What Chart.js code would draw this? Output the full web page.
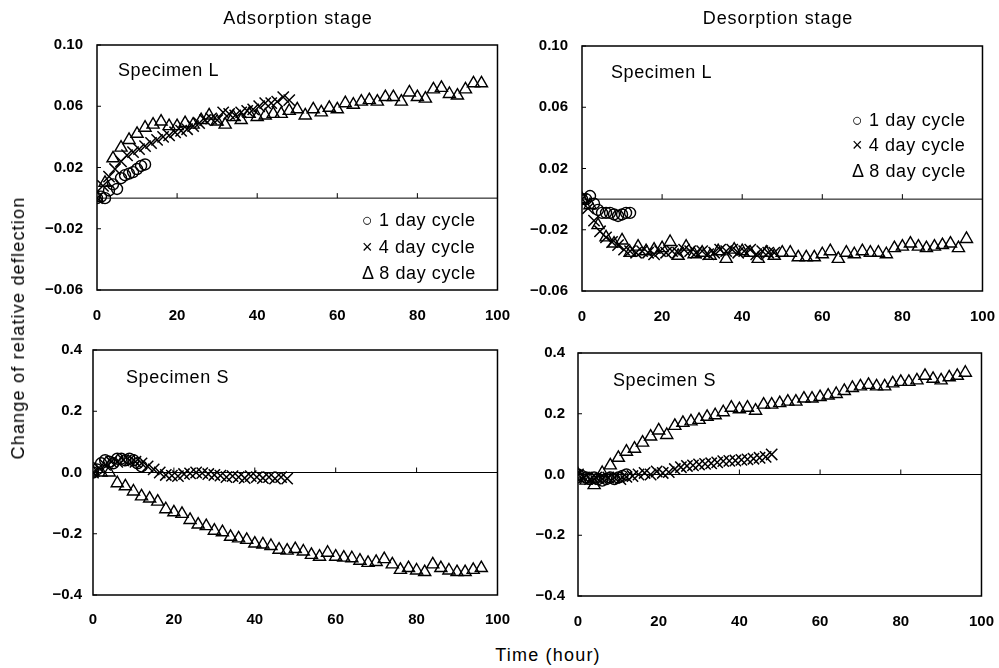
<!DOCTYPE html>
<html>
<head>
<meta charset="utf-8">
<script src="https://cdn.jsdelivr.net/npm/chart.js@4.4.0/dist/chart.umd.min.js"></script>
<style>
  html, body { margin:0; padding:0; background:#fff; }
  #wrap { position:relative; width:999px; height:668px; background:#fff; overflow:hidden; font-family:"Liberation Sans", Arial, sans-serif; color:#000; }
  canvas { position:absolute; }
  .t { position:absolute; white-space:nowrap; line-height:22px; font-size:18px; letter-spacing:0.6px; z-index:2; }
  .c { transform:translate(-50%,-50%); }
</style>
</head>
<body>
<div id="wrap">
  <canvas id="c1" width="507" height="313" style="left:20px;top:22px;width:507px;height:313px"></canvas>
  <canvas id="c2" width="507" height="313" style="left:505px;top:23px;width:507px;height:313px"></canvas>
  <canvas id="c3" width="510" height="310" style="left:16px;top:330px;width:510px;height:310px"></canvas>
  <canvas id="c4" width="510" height="312" style="left:501px;top:331px;width:510px;height:312px"></canvas>

  <div class="t c" style="left:298px;top:18px;letter-spacing:0.9px;">Adsorption stage</div>
  <div class="t c" style="left:778px;top:18px;letter-spacing:0.9px;">Desorption stage</div>

  <div class="t" style="left:118px;top:59px;">Specimen L</div>
  <div class="t" style="left:611px;top:61px;">Specimen L</div>
  <div class="t" style="left:126px;top:366px;">Specimen S</div>
  <div class="t" style="left:613px;top:369px;">Specimen S</div>

  <div class="t" style="left:362px;top:209px;">○ 1 day cycle</div>
  <div class="t" style="left:362px;top:236px;">× 4 day cycle</div>
  <div class="t" style="left:362px;top:262px;">Δ 8 day cycle</div>

  <div class="t" style="left:852px;top:109px;">○ 1 day cycle</div>
  <div class="t" style="left:852px;top:134px;">× 4 day cycle</div>
  <div class="t" style="left:852px;top:160px;">Δ 8 day cycle</div>

  <div class="t" style="left:18px;top:328px;letter-spacing:1.2px;transform:translate(-50%,-50%) rotate(-90deg);">Change of relative deflection</div>
  <div class="t c" style="left:548px;top:655px;letter-spacing:1.2px;">Time (hour)</div>
</div>
<script>
// ---------- data ----------
const hours1 = [0,1,2,3,4,5,6,7,8,9,10,11,12];
const hours4 = [0,1.5,3,4.5,6,7.5,9,10.5,12,13.5,15,16.5,18,19.5,21,22.5,24,25.5,27,28.5,30,31.5,33,34.5,36,37.5,39,40.5,42,43.5,45,46.5,48];
const hours8 = [0,2,4,6,8,10,12,14,16,18,20,22,24,26,28,30,32,34,36,38,40,42,44,46,48,50,52,54,56,58,60,62,64,66,68,70,72,74,76,78,80,82,84,86,88,90,92,94,96];

const xTicks = [0,20,40,60,80,100];
const yTicksL = [-0.06,-0.02,0.02,0.06,0.10];
const yTicksS = [-0.4,-0.2,0.0,0.2,0.4];

const seriesNames = ['1 day cycle','4 day cycle','8 day cycle'];

// Adsorption, specimen L
const adsL1 = [0.000,0.001,0.000,0.005,0.009,0.006,0.013,0.015,0.016,0.017,0.019,0.021,0.022];
const adsL4 = [0.000,0.008,0.014,0.019,0.024,0.028,0.030,0.032,0.034,0.036,0.038,0.040,0.041,0.043,0.044,0.045,0.047,0.049,0.051,0.052,0.051,0.056,0.055,0.054,0.056,0.057,0.058,0.060,0.062,0.062,0.063,0.066,0.064];
const adsL8 = [0.000,0.010,0.026,0.033,0.038,0.042,0.046,0.048,0.050,0.047,0.047,0.049,0.048,0.051,0.054,0.050,0.048,0.053,0.051,0.055,0.053,0.054,0.055,0.055,0.057,0.058,0.054,0.058,0.056,0.059,0.058,0.062,0.061,0.063,0.064,0.063,0.066,0.066,0.063,0.069,0.066,0.065,0.071,0.072,0.068,0.067,0.071,0.075,0.075];

// Desorption, specimen L
const desL1 = [0.000,0.000,0.002,-0.003,-0.007,-0.009,-0.009,-0.009,-0.010,-0.011,-0.010,-0.009,-0.009];
const desL4 = [0.000,-0.006,-0.014,-0.021,-0.025,-0.028,-0.030,-0.033,-0.034,-0.035,-0.034,-0.035,-0.036,-0.034,-0.035,-0.034,-0.035,-0.033,-0.034,-0.035,-0.034,-0.036,-0.035,-0.033,-0.034,-0.033,-0.035,-0.034,-0.033,-0.036,-0.034,-0.035,-0.035];
const desL8 = [0.000,-0.004,-0.017,-0.025,-0.029,-0.027,-0.035,-0.031,-0.034,-0.033,-0.032,-0.028,-0.037,-0.031,-0.036,-0.035,-0.037,-0.034,-0.039,-0.033,-0.034,-0.035,-0.039,-0.035,-0.037,-0.035,-0.035,-0.038,-0.038,-0.038,-0.036,-0.034,-0.039,-0.035,-0.036,-0.034,-0.035,-0.035,-0.036,-0.032,-0.031,-0.029,-0.031,-0.032,-0.031,-0.030,-0.029,-0.032,-0.026];

// Adsorption, specimen S
const adsS1 = [0.000,0.010,0.030,0.040,0.035,0.030,0.045,0.045,0.040,0.045,0.040,0.030,0.020];
const adsS4 = [0.000,0.015,0.025,0.035,0.035,0.040,0.040,0.035,0.030,0.020,0.010,0.000,-0.008,-0.010,-0.012,-0.005,-0.003,0.000,-0.002,-0.005,-0.008,-0.010,-0.015,-0.012,-0.015,-0.018,-0.012,-0.015,-0.018,-0.015,-0.020,-0.015,-0.020];
const adsS8 = [0.000,0.000,0.000,-0.035,-0.045,-0.062,-0.078,-0.085,-0.095,-0.120,-0.130,-0.135,-0.155,-0.170,-0.175,-0.190,-0.195,-0.210,-0.215,-0.220,-0.232,-0.235,-0.240,-0.252,-0.255,-0.250,-0.258,-0.269,-0.275,-0.262,-0.275,-0.278,-0.280,-0.288,-0.295,-0.292,-0.283,-0.300,-0.318,-0.312,-0.320,-0.325,-0.300,-0.312,-0.320,-0.325,-0.325,-0.318,-0.312];

// Desorption, specimen S
const desS1 = [0.000,-0.005,-0.010,-0.015,-0.010,-0.015,-0.020,-0.015,-0.010,-0.015,-0.010,-0.005,0.000];
const desS4 = [0.000,-0.010,-0.015,-0.010,-0.015,-0.010,-0.010,-0.015,-0.008,-0.005,0.000,0.005,0.000,0.010,0.005,0.008,0.018,0.024,0.028,0.030,0.033,0.035,0.037,0.040,0.044,0.045,0.046,0.048,0.050,0.052,0.055,0.058,0.066];
const desS8 = [0.000,-0.020,-0.035,0.005,0.030,0.055,0.075,0.085,0.105,0.125,0.145,0.130,0.160,0.170,0.175,0.180,0.190,0.195,0.205,0.220,0.215,0.220,0.210,0.230,0.230,0.235,0.240,0.240,0.250,0.250,0.255,0.260,0.265,0.275,0.285,0.290,0.295,0.290,0.290,0.300,0.305,0.305,0.310,0.325,0.315,0.310,0.320,0.325,0.335];

// ---------- chart building ----------
const pts = (hs, vs) => hs.map((h, i) => ({ x: h, y: vs[i] }));

const framePlugin = {
  id: 'frame',
  beforeDatasetsDraw(chart) {
    const { ctx, chartArea: a, scales: { x, y } } = chart;
    ctx.save();
    ctx.strokeStyle = '#000';
    ctx.lineWidth = 1.5;
    ctx.strokeRect(a.left, a.top, a.right - a.left, a.bottom - a.top);
    const y0 = y.getPixelForValue(0);
    ctx.lineWidth = 1;
    ctx.beginPath();
    ctx.moveTo(a.left, y0); ctx.lineTo(a.right, y0);
    x.ticks.forEach(t => {
      if (t.value > x.min && t.value < x.max) {
        const px = x.getPixelForValue(t.value);
        ctx.moveTo(px, y0); ctx.lineTo(px, y0 - 5);
      }
    });
    y.ticks.forEach(t => {
      const py = y.getPixelForValue(t.value);
      ctx.moveTo(a.left, py); ctx.lineTo(a.left + 4, py);
    });
    ctx.stroke();
    ctx.restore();
  }
};

function makeChart(id, v1, v4, v8, yTicks, decimals, cfg) {
  const tickFont = { family: '"Liberation Sans", Arial, sans-serif', size: 15, weight: 'bold' };
  const fmt = v => Number(v).toFixed(decimals).replace('-', '\u2212');
  return new Chart(document.getElementById(id), {
    type: 'scatter',
    data: {
      datasets: [
        { label: seriesNames[0], data: pts(hours1, v1), pointStyle: 'circle', pointRadius: 5.5, borderColor: '#000', backgroundColor: 'rgba(0,0,0,0)', borderWidth: 1.4 },
        { label: seriesNames[1], data: pts(hours4, v4), pointStyle: 'crossRot', pointRadius: 8, borderColor: '#000', backgroundColor: 'rgba(0,0,0,0)', borderWidth: 1.5 },
        { label: seriesNames[2], data: pts(hours8, v8), pointStyle: 'triangle', pointRadius: 7, borderColor: '#000', backgroundColor: 'rgba(0,0,0,0)', borderWidth: 1.4 }
      ]
    },
    options: {
      responsive: false,
      maintainAspectRatio: false,
      animation: false,
      events: [],
      layout: { padding: 0 },
      plugins: { legend: { display: false }, tooltip: { enabled: false } },
      scales: {
        x: {
          type: 'linear', min: 0, max: 100,
          grid: { display: false, drawTicks: false },
          border: { display: false },
          afterBuildTicks: s => { s.ticks = xTicks.map(v => ({ value: v })); },
          afterFit: s => { s.height = cfg.xh; },
          ticks: { color: '#000', font: tickFont, padding: cfg.xpad, maxRotation: 0, callback: v => String(v) }
        },
        y: {
          type: 'linear', min: yTicks[0], max: yTicks[yTicks.length - 1],
          grid: { display: false, drawTicks: false },
          border: { display: false },
          afterBuildTicks: s => { s.ticks = yTicks.map(v => ({ value: v })); },
          afterFit: s => { s.width = 77; },
          ticks: { color: '#000', font: tickFont, padding: cfg.ypad, callback: fmt }
        }
      }
    },
    plugins: [framePlugin]
  });
}

makeChart('c1', adsL1, adsL4, adsL8, yTicksL, 2, { xh: 45, xpad: 17, ypad: 14 });
makeChart('c2', desL1, desL4, desL8, yTicksL, 2, { xh: 45, xpad: 17, ypad: 14 });
makeChart('c3', adsS1, adsS4, adsS8, yTicksS, 1, { xh: 45, xpad: 16, ypad: 11 });
makeChart('c4', desS1, desS4, desS8, yTicksS, 1, { xh: 47, xpad: 17, ypad: 13 });
</script>
</body>
</html>
